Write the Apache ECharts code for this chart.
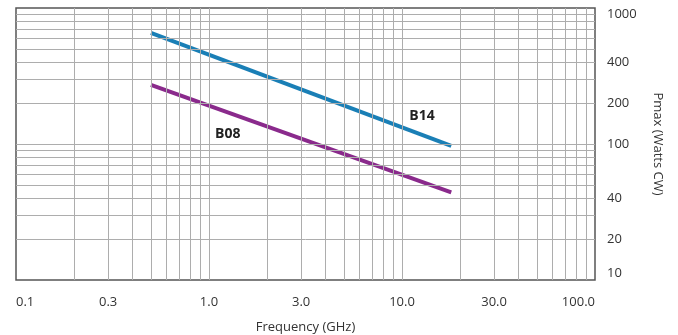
<!DOCTYPE html>
<html>
<head>
<meta charset="utf-8">
<script src="https://cdn.jsdelivr.net/npm/echarts@6/dist/echarts.min.js"></script>
<style>html,body{margin:0;padding:0;background:#fff;}#c{width:678px;height:335px;}</style>
</head>
<body>
<div id="c"></div>
<script>
// Data
const seriesNames = ['B14', 'B08'];
const b14Freq = [0.5, 18];
const b14Power = [655, 97];
const b08Freq = [0.5, 18];
const b08Power = [272, 44];
const xTickLabels = [0.1, 0.3, 1, 3, 10, 30, 100];
const yTickLabels = [10, 20, 40, 100, 200, 400, 1000];
const xGridValues = [0.2,0.3,0.4,0.5,0.6,0.7,0.8,0.9,1,2,3,4,5,6,7,8,9,10,20,30,40,50,60,70,80,90];
const yGridValues = [20,30,40,50,60,70,80,90,100,200,300,400,500,600,700,800,900];

const FONT = '"Open Sans", "Noto Sans", sans-serif';
const chart = echarts.init(document.getElementById('c'), null, {renderer: 'canvas'});

const gridLines = [];
xGridValues.forEach(v => gridLines.push({xAxis: v}));
yGridValues.forEach(v => gridLines.push({yAxis: v}));

const option = {
  animation: false,
  grid: {left: 16, right: 83, top: 8, bottom: 55, show: true, borderColor: '#555', borderWidth: 1.5, backgroundColor: 'transparent', outerBoundsMode: 'none', containLabel: false},
  xAxis: {
    type: 'log', logBase: 10, min: 0.1, max: 100,
    name: 'Frequency (GHz)', nameLocation: 'middle', nameGap: 41,
    nameTextStyle: {color: '#333', fontSize: 13, fontFamily: FONT},
    axisLine: {show: false}, axisTick: {show: false}, splitLine: {show: false},
    axisLabel: {
      customValues: xTickLabels,
      formatter: v => Number(v).toFixed(1),
      color: '#333', fontSize: 13, fontFamily: FONT, margin: 16,
      alignMinLabel: 'left', alignMaxLabel: 'right'
    }
  },
  yAxis: {
    type: 'log', logBase: 10, min: 10, max: 1000, position: 'right',
    name: 'Pmax (Watts CW)', nameLocation: 'middle', nameGap: 56, nameRotate: -90,
    nameTextStyle: {color: '#333', fontSize: 13, fontFamily: FONT},
    axisLine: {show: false}, axisTick: {show: false}, splitLine: {show: false},
    axisLabel: {
      customValues: yTickLabels,
      formatter: v => String(Math.round(v)),
      color: '#333', fontSize: 13, fontFamily: FONT, margin: 12,
      verticalAlignMinLabel: 'bottom', verticalAlignMaxLabel: 'top'
    }
  },
  series: [
    {
      name: 'grid', type: 'line', data: [], z: 1, silent: true,
      markLine: {
        silent: true, symbol: ['none', 'none'], label: {show: false},
        lineStyle: {color: '#adadad', width: 1, type: 'solid'},
        emphasis: {disabled: true},
        data: gridLines
      }
    },
    {
      name: seriesNames[0], type: 'line', z: 3, showSymbol: false, symbol: 'none',
      data: b14Freq.map((f, i) => [f, b14Power[i]]),
      lineStyle: {color: '#1a7fb6', width: 4},
      markPoint: {
        symbol: 'circle', symbolSize: 0,
        label: {show: true, formatter: '{b}', color: '#222', fontWeight: 'bold', fontSize: 14, fontFamily: FONT, position: 'inside'},
        data: [{name: seriesNames[0], coord: [12.7, 160]}]
      }
    },
    {
      name: seriesNames[1], type: 'line', z: 3, showSymbol: false, symbol: 'none',
      data: b08Freq.map((f, i) => [f, b08Power[i]]),
      lineStyle: {color: '#8a2a8c', width: 4},
      markPoint: {
        symbol: 'circle', symbolSize: 0,
        label: {show: true, formatter: '{b}', color: '#222', fontWeight: 'bold', fontSize: 14, fontFamily: FONT, position: 'inside'},
        data: [{name: seriesNames[1], coord: [1.25, 118]}]
      }
    }
  ]
};
chart.setOption(option);
</script>
</body>
</html>
